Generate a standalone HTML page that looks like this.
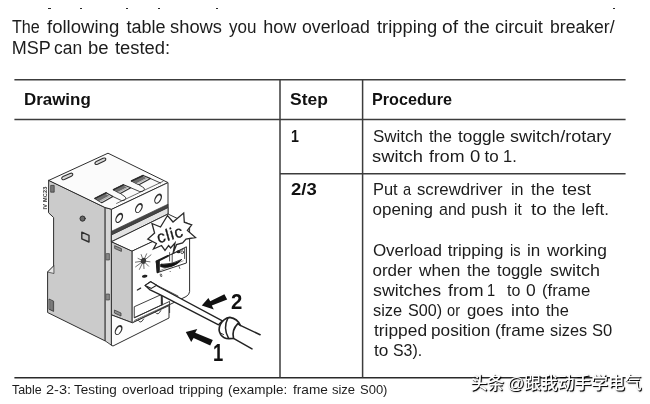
<!DOCTYPE html>
<html lang="en">
<head>
<meta charset="utf-8">
<title>Testing overload tripping</title>
<style>
html,body{margin:0;padding:0;background:#fff;}
body{width:650px;height:404px;position:relative;overflow:hidden;filter:blur(.35px);font-family:"Liberation Sans",sans-serif;color:#1a1a1a;}
.t{position:absolute;white-space:pre;height:20px;line-height:20px;font-family:"Liberation Sans",sans-serif;color:#1c1c1c;}
.b{font-weight:700;color:#111;}
.n{font-weight:400;}
.w{position:absolute;top:0;display:inline-block;transform-origin:0 50%;}
.dot{position:absolute;background:#2a2a2a;width:2.2px;height:1.8px;}
#draw{position:absolute;left:0;top:0;}
#wm{position:absolute;left:470.6px;top:372.2px;word-spacing:-1.6px;font-family:"Liberation Sans","Noto Sans CJK SC",sans-serif;font-size:16.75px;font-weight:500;line-height:24px;color:#fff;white-space:pre;text-shadow:1px 1px 0 rgba(0,0,0,.9),1px 1px 1.5px rgba(0,0,0,.7);letter-spacing:0px;}
</style>
</head>
<body>
<!-- clipped descender specks from line above -->
<div class="dot" style="left:48.4px;top:7.6px"></div>
<div class="dot" style="left:79.6px;top:7.6px"></div>
<div class="dot" style="left:126.2px;top:7.6px"></div>
<div class="dot" style="left:158px;top:7.6px"></div>
<div class="dot" style="left:216.2px;top:7.6px"></div>
<div class="dot" style="left:612.5px;top:7.6px"></div>
<svg id="draw" width="650" height="404" viewBox="0 0 650 404" font-family="Liberation Sans, sans-serif">
<!-- table rules -->
<g stroke="#3c3c3c" stroke-width="1.5" fill="none">
<path d="M14.4 79.7H625.6"/>
<path d="M14.4 119.4H625.6"/>
<path d="M280 173.7H625.6" stroke-width="1.45"/>
<path d="M14.4 377.7H625.6" stroke-width="1.4" stroke="#2a2a2a"/>
<path d="M280 79.7V377.4M362.6 79.7V377.4" stroke-width="1.5"/>
</g>

<!-- ===== circuit breaker drawing ===== -->
<g stroke="#2e2e2e" stroke-width="1" stroke-linejoin="round" stroke-linecap="round" fill="none">
<!-- left side face -->
<path d="M49 180.3L105.3 207.6V341L47.6 312.5V272L53.6 266V217.5L48.8 213Z" fill="#cbcbcb"/>
<!-- light strip -->
<path d="M105.4 207.6L111.7 209.3V345.4L105.4 341Z" fill="#d6d6d6" stroke-width=".9"/>
<!-- top face -->
<path d="M49 180.3L108 153.2L168 182.6L111.7 209.3L105.3 207.6Z" fill="#fbfbfb"/>
<!-- upper terminal block front -->
<path d="M111.7 209.3L168 182.6V214L111.7 241.6Z" fill="#fdfdfd"/>
<!-- light band + dark band -->
<path d="M111.7 234.6L168 207.4V214L111.7 241.6Z" fill="#e2e2e2" stroke-width=".9"/>
<path d="M111.7 231.2L168 204.2V207.6L111.7 234.8Z" fill="#454545" stroke="#333" stroke-width=".7"/>
<!-- protruding block: side, top, front -->
<path d="M111.7 241.6L132.4 251V322.8L111.7 315Z" fill="#c9c9c9"/>
<path d="M111.7 241.6L168 214L189.6 224.3L132.4 251Z" fill="#fdfdfd"/>
<path d="M132.4 251L189.6 224.3V291.6Q189.4 294.8 186 296.6L132.4 322.8Z" fill="#fff"/>
<!-- bottom terminal block front -->
<path d="M111.7 315L132.4 322.8L169 305.6V318L113 346L111.7 345.4Z" fill="#fdfdfd"/>

</g>

<!-- ===== details ===== -->
<g stroke="#2e2e2e" stroke-width=".9" stroke-linejoin="round" stroke-linecap="round" fill="none">
<!-- small slots on top face -->
<path d="M63 176.6L70 173.4Q72.4 172.6 72.8 174.2Q73 175.4 71.4 176.2L64.4 179.4Q62.2 180.2 61.7 178.7Q61.5 177.4 63 176.6Z" fill="#d8d8d8" stroke-width="1.1"/>
<path d="M96.2 161.4L103 158.2Q105.4 157.4 105.8 159Q106 160.2 104.4 161L97.6 164.2Q95.4 165 94.9 163.5Q94.7 162.2 96.2 161.4Z" fill="#d8d8d8" stroke-width="1.1"/>
<!-- terminal slots -->
<path d="M95.0 198.4L106.1 192.8L112.9 196.5L101.8 202.7Z" fill="#ededed" stroke-width="1.15"/>
<path d="M95.0 198.4L105.0 193.4L109.2 195.7L99.2 201.1Z" fill="#6c6c6c" stroke="none"/>
<path d="M99.2 201.1L109.2 195.7L110.6 196.4L100.6 201.9Z" fill="#b0b0b0" stroke="none"/>
<path d="M95.0 198.4L106.1 192.8" stroke-width="1.5" stroke="#2a2a2a"/>
<path d="M113.5 189.7L123.4 184.8L130.8 187.8L120.3 193.4Z" fill="#ededed" stroke-width="1.15"/>
<path d="M113.5 189.7L122.4 185.3L127.0 187.2L117.7 192.0Z" fill="#6c6c6c" stroke="none"/>
<path d="M117.7 192.0L127.0 187.2L128.4 187.8L119.1 192.7Z" fill="#b0b0b0" stroke="none"/>
<path d="M113.5 189.7L123.4 184.8" stroke-width="1.5" stroke="#2a2a2a"/>
<path d="M131.5 181.0L143.2 175.5L150.6 178.6L138.9 184.8Z" fill="#ededed" stroke-width="1.15"/>
<path d="M131.5 181.0L142.0 176.1L146.6 178.0L136.1 183.4Z" fill="#6c6c6c" stroke="none"/>
<path d="M136.1 183.4L146.6 178.0L148.1 178.6L137.6 184.1Z" fill="#b0b0b0" stroke="none"/>
<path d="M131.5 181.0L143.2 175.5" stroke-width="1.5" stroke="#2a2a2a"/>
<!-- partitions / fingers -->
<path d="M112.9 196.5L121.5 200.6Q124.6 201 125.9 198.6Q126 197 124 196L120.3 193.4" fill="#fbfbfb"/>
<path d="M130.8 187.8L139.8 191.6Q143 192 144.5 189.4Q144.6 188 142.6 187L138.9 184.8" fill="#fbfbfb"/>
<path d="M150.6 178.6L160.5 183" />
<path d="M116.6 203.4L163 181.4" stroke-width=".7"/>
<!-- holes in upper terminal block -->
<g stroke="none">
<ellipse cx="119.2" cy="217.9" rx="3.3" ry="5.5" fill="#2c2c2c" transform="rotate(29 119.2 217.9)"/>
<ellipse cx="119.05" cy="218.35" rx="2.05" ry="4.0" fill="#fff" transform="rotate(29 119.05 218.35)"/>
<ellipse cx="138.9" cy="208" rx="3.3" ry="5.5" fill="#2c2c2c" transform="rotate(29 138.9 208)"/>
<ellipse cx="138.75" cy="208.45" rx="2.05" ry="4.0" fill="#fff" transform="rotate(29 138.75 208.45)"/>
<ellipse cx="158.1" cy="198.6" rx="3.3" ry="5.5" fill="#2c2c2c" transform="rotate(29 158.1 198.6)"/>
<ellipse cx="157.95" cy="199.05" rx="2.05" ry="4.0" fill="#fff" transform="rotate(29 157.95 199.05)"/>
<ellipse cx="118.6" cy="330" rx="3.3" ry="5.5" fill="#2c2c2c" transform="rotate(29 118.6 330)"/>
<ellipse cx="118.45" cy="330.45" rx="2.05" ry="4.0" fill="#fff" transform="rotate(29 118.45 330.45)"/>
</g>
<!-- left face details -->
<path d="M53.6 266L47.6 272L53.6 273.400Z" fill="#e6e6e6" stroke-width=".7"/>
<rect x="51" y="185.4" width="3.2" height="6.8" fill="#777" stroke-width=".7"/>
<circle cx="82.6" cy="218.6" r="2.6" fill="#666" stroke-width="1"/>
<path d="M81.8 232.2L89 235.400V242L81.8 238.800Z" fill="#c2c2c2" stroke-width="1.4"/>
<path d="M49.4 299.2L53.6 301.2V311.4L49.4 309.4Z" fill="#9a9a9a" stroke-width=".8"/>
<path d="M50.8 301V309.6M52.2 301.6V310.4" stroke-width=".5"/>
<!-- strip details -->
<rect x="106.6" y="253.6" width="2.8" height="6.4" fill="#888" stroke-width=".6"/>
<rect x="106.6" y="294" width="2.8" height="6" fill="#888" stroke-width=".6"/>

<!-- protruding side details -->
<path d="M115 245.8L121.4 248.6V251.4L115 248.6Z" fill="#8d8d8d" stroke-width=".7"/>
<path d="M114.8 310.2L121 313V316L114.8 313.2Z" fill="#8d8d8d" stroke-width=".7"/>
</g>
<text transform="translate(46.6 209.5) rotate(-90)" font-size="5.6" font-weight="700" fill="#333" letter-spacing=".2">IV MC23</text>

<!-- ===== front block details ===== -->
<g stroke="#2a2a2a" stroke-width=".9" stroke-linejoin="round" stroke-linecap="round" fill="none">
<!-- recessed panel + base -->
<path d="M134.6 306.6L161.2 294.6L162.4 304.6L134.6 317.6Z" fill="#fff"/>
<path d="M134.6 317.6L169.6 301.4V312.6" />
<path d="M161.8 296V304.6" stroke-width="2" stroke="#333"/>
<path d="M134.6 320.4L168.6 304.6" stroke-width=".7"/>
<path d="M138.6 320.6Q140.6 324.4 143.6 319"/>
<path d="M155.6 312.6Q158 316.2 160.8 310.6"/>
<!-- sun symbol -->
<g stroke-width=".7" stroke="#333">
<path d="M143.5 261L135.6 266.8M143.5 261L138 258.4M143.5 261L141.2 254.6M143.5 261L146.6 253.8M143.5 261L151 254.8M143.5 261L150 261.8M143.5 261L148.6 266.2M143.5 261L144 268.6M143.5 261L139.4 269.4M143.5 261L135.4 262.2"/>
</g>
<path d="M141 259.4Q143 256.6 145.8 258.4Q147 261 145 263.4Q142 264.600 140.8 262.4Z" fill="#3a3a3a" stroke="none"/>
<!-- oval + dash -->
<ellipse cx="144.7" cy="276.2" rx="2.8" ry="1.5" fill="#222" stroke="none" transform="rotate(-8 144.7 276.2)"/>
<path d="M137.4 290L140.6 288.2" stroke-width="1.4"/>
<!-- rotary window -->
<path d="M156.6 261.6L186.4 246.8V263L157.6 272.6Z" fill="#fff" stroke-width="1"/>
<path d="M156.4 261.600L159.200 260.200V271.200L157.400 272.600Z" fill="#1c1c1c" stroke="#1c1c1c" stroke-width="1.2"/>
<path d="M156.6 261.5L168 255.8" stroke="#1c1c1c" stroke-width="2"/>
<path d="M159.4 270.8L183.200 260.800" stroke-width=".6" stroke="#666"/>
<path d="M171.6 254.400L184.600 248.400V258.600" stroke-width=".8"/>
<path d="M160.4 264.6Q161 263.600 163 264.200Q172 264.600 181.800 259.400Q177 265 170.800 266.700Q164 268.200 160.800 266.800Z" fill="#111" stroke="#111" stroke-width=".8"/>
<ellipse cx="178.5" cy="251.7" rx="1.9" ry="1.5" fill="#222" stroke="none"/>
<circle cx="182.2" cy="252.2" r="1.4" fill="#fff" stroke-width=".8"/>
<path d="M169.600 252.600V261M172.200 254.200V262.600" stroke-width=".8"/>
</g>
<g font-size="4.6" font-weight="700" fill="#222">
<text transform="translate(160.4 277.2) rotate(-24)">0</text>
<text transform="translate(170 273) rotate(-24)">-</text>
<text transform="translate(179.400 269.2) rotate(-24)">I</text>
</g>

<!-- ===== starburst ===== -->
<path d="M152 223.5L160.5 227L167.5 215.5L173 222L183.7 213L184.3 222.3L191.7 224.8L187.4 230.4L195.5 237.5L186 239L182.6 243L176.6 244.6L173 253.5L175 243L170.6 248L168.6 245.6L165 250.4L161.5 245.5L153.5 249L156.4 243.5L147.8 239L154.6 233Z" fill="#fff" stroke="#2a2a2a" stroke-width="1.3" stroke-linejoin="miter"/>
<text transform="translate(158.6 243.2) rotate(-15)" font-size="16.5" font-weight="400" fill="#1a1a1a" stroke="#1a1a1a" stroke-width=".3" letter-spacing=".7">clic</text>

<!-- ===== screwdriver ===== -->
<g stroke="#222" stroke-width="1.1" stroke-linejoin="round" stroke-linecap="round" fill="#fff">
<path d="M145.3 285.6L150.6 281.8L160 287.5L222.4 320.8L218.6 324.8L160 294.700L149.6 289.6Z" stroke-width="1.4"/>
<path d="M150.7 281.8L156.6 285.2L151.4 288.4L145.1 285.4Z" fill="#fff"/>
<path d="M156.6 285.2L178 296" fill="none" stroke-width=".8"/>
<!-- handle -->
<path d="M238 322L260.1 334.7L252 348.9L232 338.600Z" fill="#fff" stroke="none"/>
<path d="M240.3 325.4L260.1 334.7M233.5 338.4L252 348.9" fill="none" stroke-width="1.5"/>
<!-- ferrule -->
<path d="M229.800 317.4Q223.600 318.4 220.400 324.4Q217.800 329.800 220.6 334.4Q224 338.800 229.100 338.600L233.5 338.4Q231.400 330.2 237.800 323.6L240.3 325.4Q237.600 318.8 229.800 317.4Z" fill="#fff" stroke-width="1.65"/>
<path d="M227.9 318.2Q222.800 328 228.5 338.2" fill="none" stroke-width="1.5"/>
<path d="M220.600 333L223.600 334.6" fill="none" stroke-width=".9"/>
</g>

<!-- ===== arrows and numerals ===== -->
<g fill="#111" stroke="none">
<path d="M224.4 294.2L227.2 299.5L211.8 305.5L213.8 309.4L201.8 305.5L208.4 298L210.2 301.2Z"/>
<path d="M212.8 340L210.2 345.4L193.6 338L191.2 341.9L185.8 331.9L197.3 329L195.2 332.7Z"/>
</g>
<text transform="translate(231 309.4) scale(.95 1)" font-size="21.4" font-weight="700" fill="#111">2</text>
<text transform="translate(213 360.6) scale(.8 1)" font-size="23" font-weight="700" fill="#111">1</text>
</svg>

<div class="t n" style="left:12.3px;top:17px;width:607px;font-size:18px"><span class="w" style="left:-0.0px;transform:scaleX(0.897)">The</span> <span class="w" style="left:34.6px;transform:scaleX(1.032)">following</span> <span class="w" style="left:114.2px">table</span> <span class="w" style="left:158.2px;transform:scaleX(1.020)">shows</span> <span class="w" style="left:216.9px;transform:scaleX(0.946)">you</span> <span class="w" style="left:251.0px">how</span> <span class="w" style="left:289.7px;transform:scaleX(0.982)">overload</span> <span class="w" style="left:365.1px;transform:scaleX(1.019)">tripping</span> <span class="w" style="left:430.1px;transform:scaleX(1.071)">of</span> <span class="w" style="left:452.2px;transform:scaleX(1.029)">the</span> <span class="w" style="left:482.9px;transform:scaleX(1.017)">circuit</span> <span class="w" style="left:538.2px;transform:scaleX(0.978)">breaker/</span></div>
<div class="t n" style="left:12.8px;top:38px;width:161px;font-size:18px"><span class="w" style="left:-1.0px">MSP</span> <span class="w" style="left:41.6px;transform:scaleX(0.967)">can</span> <span class="w" style="left:75.4px;transform:scaleX(1.028)">be</span> <span class="w" style="left:102.6px;transform:scaleX(1.021)">tested:</span></div>
<div class="t b" style="left:25.0px;top:89px;width:69px;font-size:16.5px"><span class="w" style="left:-1.0px;transform:scaleX(1.025)">Drawing</span></div>
<div class="t b" style="left:291.0px;top:89px;width:40px;font-size:16.5px"><span class="w" style="left:-1.1px;transform:scaleX(1.059)">Step</span></div>
<div class="t b" style="left:373.4px;top:89px;width:82px;font-size:16.5px"><span class="w" style="left:-1.0px;transform:scaleX(0.980)">Procedure</span></div>
<div class="t b" style="left:291.8px;top:126px;width:11px;font-size:16.5px"><span class="w" style="left:-0.9px;transform:scaleX(0.860)">1</span></div>
<div class="t b" style="left:291.0px;top:179px;width:30px;font-size:16.5px"><span class="w" style="left:0.2px;transform:scaleX(1.120)">2/3</span></div>
<div class="t n" style="left:373.9px;top:127px;width:241px;font-size:17px"><span class="w" style="left:-1.0px">Switch</span> <span class="w" style="left:55.5px;transform:scaleX(0.970)">the</span> <span class="w" style="left:84.6px;transform:scaleX(1.020)">toggle</span> <span class="w" style="left:136.5px;transform:scaleX(1.062)">switch/rotary</span></div>
<div class="t n" style="left:373.5px;top:147px;width:146px;font-size:17px"><span class="w" style="left:-1.1px;transform:scaleX(1.080)">switch</span> <span class="w" style="left:55.5px;transform:scaleX(1.045)">from</span> <span class="w" style="left:96.2px;transform:scaleX(1.087)">0</span> <span class="w" style="left:111.1px">to</span> <span class="w" style="left:129.3px;transform:scaleX(0.967)">1.</span></div>
<div class="t n" style="left:374.3px;top:180px;width:220px;font-size:17px"><span class="w" style="left:-1.0px;transform:scaleX(0.967)">Put</span> <span class="w" style="left:29.0px;transform:scaleX(0.860)">a</span> <span class="w" style="left:42.9px;transform:scaleX(0.985)">screwdriver</span> <span class="w" style="left:136.9px;transform:scaleX(0.945)">in</span> <span class="w" style="left:156.7px">the</span> <span class="w" style="left:187.6px;transform:scaleX(1.059)">test</span></div>
<div class="t n" style="left:373.5px;top:200px;width:238px;font-size:17px"><span class="w" style="left:-1.0px">opening</span> <span class="w" style="left:65.5px;transform:scaleX(0.944)">and</span> <span class="w" style="left:97.8px;transform:scaleX(0.986)">push</span> <span class="w" style="left:140.9px;transform:scaleX(0.900)">it</span> <span class="w" style="left:157.0px;transform:scaleX(1.120)">to</span> <span class="w" style="left:179.2px;transform:scaleX(0.957)">the</span> <span class="w" style="left:208.1px">left.</span></div>
<div class="t n" style="left:373.9px;top:241px;width:236px;font-size:17px"><span class="w" style="left:-1.0px">Overload</span> <span class="w" style="left:73.8px">tripping</span> <span class="w" style="left:135.7px;transform:scaleX(0.860)">is</span> <span class="w" style="left:153.0px">in</span> <span class="w" style="left:172.9px;transform:scaleX(1.024)">working</span></div>
<div class="t n" style="left:373.5px;top:261px;width:229px;font-size:17px"><span class="w" style="left:-1.0px">order</span> <span class="w" style="left:45.3px;transform:scaleX(1.017)">when</span> <span class="w" style="left:93.9px;transform:scaleX(0.983)">the</span> <span class="w" style="left:123.5px;transform:scaleX(0.983)">toggle</span> <span class="w" style="left:176.1px;transform:scaleX(1.058)">switch</span></div>
<div class="t n" style="left:373.5px;top:281px;width:221px;font-size:17px"><span class="w" style="left:-1.0px;transform:scaleX(1.045)">switches</span> <span class="w" style="left:74.2px;transform:scaleX(1.045)">from</span> <span class="w" style="left:113.8px;transform:scaleX(0.860)">1</span> <span class="w" style="left:133.9px;transform:scaleX(0.943)">to</span> <span class="w" style="left:152.6px;transform:scaleX(1.025)">0</span> <span class="w" style="left:168.3px;transform:scaleX(0.985)">(frame</span></div>
<div class="t n" style="left:373.5px;top:301px;width:199px;font-size:17px"><span class="w" style="left:-1.0px;transform:scaleX(0.966)">size</span> <span class="w" style="left:34.4px;transform:scaleX(0.950)">S00)</span> <span class="w" style="left:73.2px;transform:scaleX(0.860)">or</span> <span class="w" style="left:93.9px;transform:scaleX(0.986)">goes</span> <span class="w" style="left:137.6px;transform:scaleX(1.046)">into</span> <span class="w" style="left:172.7px;transform:scaleX(0.965)">the</span></div>
<div class="t n" style="left:373.5px;top:321px;width:242px;font-size:17px"><span class="w" style="left:0.0px;transform:scaleX(1.020)">tripped</span> <span class="w" style="left:57.5px;transform:scaleX(1.012)">position</span> <span class="w" style="left:121.1px;transform:scaleX(1.013)">(frame</span> <span class="w" style="left:176.6px;transform:scaleX(0.957)">sizes</span> <span class="w" style="left:218.5px;transform:scaleX(0.974)">S0</span></div>
<div class="t n" style="left:373.5px;top:341px;width:52px;font-size:17px"><span class="w" style="left:0.0px;transform:scaleX(1.014)">to</span> <span class="w" style="left:19.6px;transform:scaleX(0.934)">S3).</span></div>
<div class="t n" style="left:12.4px;top:380px;width:379px;font-size:13px"><span class="w" style="left:-0.0px;transform:scaleX(0.955)">Table</span> <span class="w" style="left:34.1px;transform:scaleX(1.120)">2-3:</span> <span class="w" style="left:62.0px;transform:scaleX(1.039)">Testing</span> <span class="w" style="left:109.6px;transform:scaleX(1.042)">overload</span> <span class="w" style="left:166.6px;transform:scaleX(1.038)">tripping</span> <span class="w" style="left:216.0px;transform:scaleX(1.036)">(example:</span> <span class="w" style="left:280.6px;transform:scaleX(1.048)">frame</span> <span class="w" style="left:319.6px">size</span> <span class="w" style="left:347.6px">S00)</span></div>
<div id="wm">头条 @跟我动手学电气</div>
</body>
</html>
